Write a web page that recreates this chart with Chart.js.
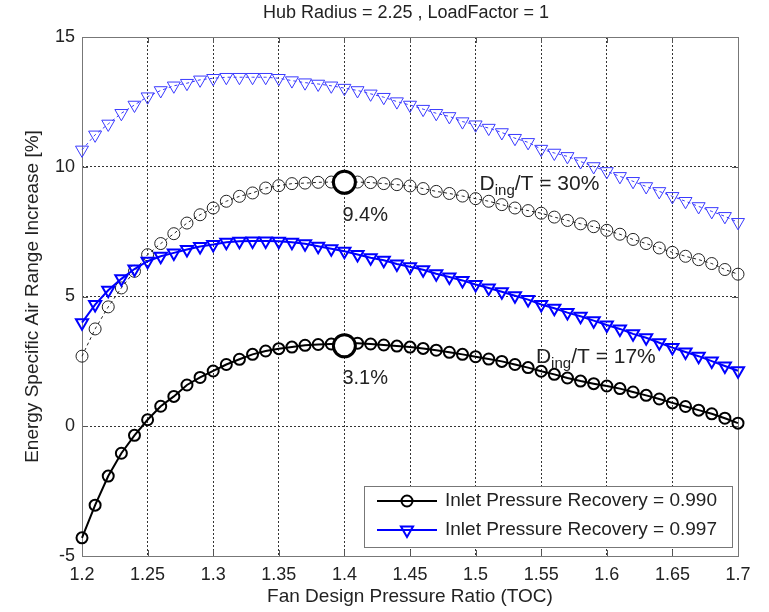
<!DOCTYPE html>
<html lang="en">
<head>
<meta charset="UTF-8" />
<title>Energy Specific Air Range Increase</title>
<script src="https://cdn.jsdelivr.net/npm/chart.js"></script>
<style>
  body { margin: 0; background: #fff; }
  #grafico { display: block; }
</style>
</head>
<body>
<canvas id="grafico" width="769" height="612"></canvas>
<script>
  // fan design pressure ratio (TOC), one point every 0.01
  var pressureRatio = [
    1.20, 1.21, 1.22, 1.23, 1.24, 1.25, 1.26, 1.27, 1.28, 1.29,
    1.30, 1.31, 1.32, 1.33, 1.34, 1.35, 1.36, 1.37, 1.38, 1.39,
    1.40, 1.41, 1.42, 1.43, 1.44, 1.45, 1.46, 1.47, 1.48, 1.49,
    1.50, 1.51, 1.52, 1.53, 1.54, 1.55, 1.56, 1.57, 1.58, 1.59,
    1.60, 1.61, 1.62, 1.63, 1.64, 1.65, 1.66, 1.67, 1.68, 1.69,
    1.70
  ];

  // Ding/T = 17%
  var recovery990Ding17 = [
    -4.30, -3.04, -1.92, -1.04, -0.35, 0.25, 0.77, 1.15, 1.59, 1.88,
    2.13, 2.38, 2.58, 2.77, 2.90, 2.99, 3.05, 3.12, 3.15, 3.17,
    3.20, 3.20, 3.17, 3.13, 3.09, 3.05, 3.00, 2.93, 2.85, 2.77,
    2.68, 2.59, 2.50, 2.38, 2.26, 2.12, 2.00, 1.86, 1.74, 1.64,
    1.55, 1.45, 1.32, 1.19, 1.05, 0.90, 0.76, 0.62, 0.48, 0.31,
    0.12
  ];
  var recovery997Ding17 = [
    3.99, 4.69, 5.24, 5.68, 6.06, 6.36, 6.55, 6.68, 6.81, 6.93,
    7.00, 7.09, 7.13, 7.14, 7.14, 7.13, 7.09, 7.03, 6.94, 6.84,
    6.74, 6.62, 6.49, 6.40, 6.25, 6.15, 6.03, 5.88, 5.75, 5.62,
    5.46, 5.33, 5.18, 5.03, 4.88, 4.69, 4.55, 4.38, 4.24, 4.07,
    3.90, 3.75, 3.56, 3.41, 3.22, 3.03, 2.86, 2.70, 2.51, 2.32,
    2.14
  ];

  // Ding/T = 30%
  var recovery990Ding30 = [
    2.70, 3.75, 4.60, 5.33, 5.97, 6.61, 7.04, 7.42, 7.83, 8.15,
    8.41, 8.67, 8.86, 8.99, 9.18, 9.27, 9.35, 9.37, 9.40, 9.41,
    9.44, 9.41, 9.39, 9.35, 9.31, 9.26, 9.16, 9.05, 8.97, 8.87,
    8.77, 8.67, 8.54, 8.41, 8.31, 8.21, 8.06, 7.93, 7.80, 7.69,
    7.55, 7.40, 7.20, 7.04, 6.87, 6.70, 6.55, 6.42, 6.27, 6.04,
    5.86
  ];
  var recovery997Ding30 = [
    10.65, 11.23, 11.65, 12.06, 12.38, 12.70, 12.94, 13.12, 13.22, 13.35,
    13.41, 13.45, 13.45, 13.45, 13.45, 13.41, 13.32, 13.24, 13.19, 13.12,
    13.03, 12.94, 12.81, 12.68, 12.51, 12.38, 12.22, 12.06, 11.94, 11.74,
    11.62, 11.49, 11.32, 11.10, 10.94, 10.68, 10.53, 10.40, 10.20, 10.01,
    9.82, 9.63, 9.44, 9.24, 9.05, 8.86, 8.67, 8.47, 8.28, 8.09,
    7.86
  ];

  // highlighted optimum of the 0.990 curves
  var peakX = [1.4, 1.4];
  var peakY = [9.4, 3.1];

  // Ding/T annotations
  var dingText = ["30%", "17%"];
  var dingX = [1.503, 1.546];
  var dingY = [9.38, 2.69];

  var xTicks = [1.2, 1.25, 1.3, 1.35, 1.4, 1.45, 1.5, 1.55, 1.6, 1.65, 1.7];
  var yTicks = [-5, 0, 5, 10, 15];

  var legendLabels = [
    "Inlet Pressure Recovery = 0.990",
    "Inlet Pressure Recovery = 0.997"
  ];
  var chartTitle = "Hub Radius = 2.25 , LoadFactor = 1";

  var fonte = "'Liberation Sans', Arial, sans-serif";
  var corTexto = "#222";

  function pontos(ys) {
    var lista = [];
    for (var i = 0; i < ys.length; i++) {
      lista.push({ x: pressureRatio[i], y: ys[i] });
    }
    return lista;
  }

  // triangle pointing down, same geometry as Chart.js 'triangle' rotated 180
  function trianguloBaixo(ctx, x, y, r) {
    ctx.beginPath();
    ctx.moveTo(x, y + r);
    ctx.lineTo(x - r * 0.866, y - r * 0.5);
    ctx.lineTo(x + r * 0.866, y - r * 0.5);
    ctx.closePath();
    ctx.stroke();
  }

  // axes box and inward tick marks
  var moldura = {
    id: "moldura",
    beforeDatasetsDraw(chart) {
      var ctx = chart.ctx;
      var a = chart.chartArea;
      var sx = chart.scales.x;
      var sy = chart.scales.y;
      ctx.save();
      ctx.strokeStyle = "#555";
      ctx.lineWidth = 1;
      ctx.beginPath();
      xTicks.forEach(function (v) {
        var px = Math.round(sx.getPixelForValue(v)) + 0.5;
        ctx.moveTo(px, a.bottom); ctx.lineTo(px, a.bottom - 6);
        ctx.moveTo(px, a.top); ctx.lineTo(px, a.top + 6);
      });
      yTicks.forEach(function (v) {
        var py = Math.round(sy.getPixelForValue(v)) + 0.5;
        ctx.moveTo(a.left, py); ctx.lineTo(a.left + 6, py);
        ctx.moveTo(a.right, py); ctx.lineTo(a.right - 6, py);
      });
      ctx.stroke();
      ctx.strokeStyle = "#777";
      ctx.strokeRect(Math.round(a.left) + 0.5, Math.round(a.top) + 0.5,
        Math.round(a.right - a.left), Math.round(a.bottom - a.top));
      ctx.restore();
    },
    afterDatasetsDraw(chart) {
      var ctx = chart.ctx;
      var sx = chart.scales.x;
      var sy = chart.scales.y;
      ctx.save();
      ctx.fillStyle = corTexto;

      // title
      ctx.font = "18px " + fonte;
      ctx.textAlign = "center";
      ctx.textBaseline = "middle";
      ctx.fillText(chartTitle, 406, 13);

      // peak values
      ctx.font = "20px " + fonte;
      ctx.textAlign = "left";
      for (var i = 0; i < peakY.length; i++) {
        var px = sx.getPixelForValue(peakX[i]);
        var py = sy.getPixelForValue(peakY[i]);
        ctx.fillText(peakY[i].toFixed(1) + "%", px - 2, py + 33);
      }

      // Ding/T labels with subscript
      ctx.textBaseline = "alphabetic";
      for (var j = 0; j < dingText.length; j++) {
        var x0 = sx.getPixelForValue(dingX[j]);
        var base = sy.getPixelForValue(dingY[j]) + 7;
        ctx.font = "21px " + fonte;
        ctx.fillText("D", x0, base);
        x0 += ctx.measureText("D").width;
        ctx.font = "15px " + fonte;
        ctx.fillText("ing", x0, base + 5);
        x0 += ctx.measureText("ing").width;
        ctx.font = "21px " + fonte;
        ctx.fillText("/T = " + dingText[j], x0, base);
      }

      // legend
      ctx.fillStyle = "#fff";
      ctx.fillRect(364, 486, 368, 61);
      ctx.strokeStyle = "#777";
      ctx.lineWidth = 1;
      ctx.strokeRect(364.5, 486.5, 368, 61);
      var linhas = [501, 530];
      var cores = ["#000", "#0000ff"];
      for (var k = 0; k < legendLabels.length; k++) {
        var ly = linhas[k];
        ctx.strokeStyle = cores[k];
        ctx.lineWidth = 2;
        ctx.beginPath();
        ctx.moveTo(377, ly); ctx.lineTo(437, ly);
        ctx.stroke();
        if (k === 0) {
          ctx.beginPath();
          ctx.arc(407, ly, 5.5, 0, Math.PI * 2);
          ctx.stroke();
        } else {
          trianguloBaixo(ctx, 407, ly, 7);
        }
        ctx.fillStyle = corTexto;
        ctx.font = "19px " + fonte;
        ctx.textAlign = "left";
        ctx.textBaseline = "middle";
        ctx.fillText(legendLabels[k], 445, ly);
      }
      ctx.restore();
    }
  };

  new Chart(document.getElementById("grafico"), {
    type: "line",
    data: {
      datasets: [
        {
          label: "peak",
          data: [{ x: peakX[0], y: peakY[0] }, { x: peakX[1], y: peakY[1] }],
          showLine: false,
          pointStyle: "circle",
          pointRadius: 11,
          pointBorderWidth: 3,
          pointBorderColor: "#000",
          pointBackgroundColor: "#fff",
          order: 0,
          clip: false
        },
        {
          label: legendLabels[0],
          data: pontos(recovery990Ding17),
          borderColor: "#000",
          borderWidth: 2,
          pointStyle: "circle",
          pointRadius: 5.5,
          pointBorderWidth: 2,
          pointBorderColor: "#000",
          pointBackgroundColor: "rgba(0,0,0,0)",
          order: 1,
          clip: false
        },
        {
          label: legendLabels[1],
          data: pontos(recovery997Ding17),
          borderColor: "#0000ff",
          borderWidth: 2,
          pointStyle: "triangle",
          pointRotation: 180,
          pointRadius: 7,
          pointBorderWidth: 2,
          pointBorderColor: "#0000ff",
          pointBackgroundColor: "rgba(0,0,0,0)",
          order: 2,
          clip: false
        },
        {
          label: "0.990, Ding/T = 30%",
          data: pontos(recovery990Ding30),
          borderColor: "#222",
          borderWidth: 1,
          borderDash: [3, 3],
          pointStyle: "circle",
          pointRadius: 6,
          pointBorderWidth: 1,
          pointBorderColor: "#222",
          pointBackgroundColor: "rgba(0,0,0,0)",
          order: 3,
          clip: false
        },
        {
          label: "0.997, Ding/T = 30%",
          data: pontos(recovery997Ding30),
          borderColor: "#3a3aff",
          borderWidth: 1,
          borderDash: [3, 3],
          pointStyle: "triangle",
          pointRotation: 180,
          pointRadius: 7.5,
          pointBorderWidth: 1,
          pointBorderColor: "#3a3aff",
          pointBackgroundColor: "rgba(0,0,0,0)",
          order: 4,
          clip: false
        }
      ]
    },
    options: {
      responsive: false,
      animation: false,
      layout: { padding: { top: 37, right: 31, left: 0, bottom: 0 } },
      plugins: {
        legend: { display: false },
        tooltip: { enabled: false },
        title: { display: false }
      },
      scales: {
        x: {
          type: "linear",
          min: 1.2,
          max: 1.7,
          afterBuildTicks: function (s) {
            s.ticks = xTicks.map(function (v) { return { value: v }; });
          },
          afterFit: function (s) { s.height = 56; },
          grid: { color: "#333", lineWidth: 1, drawTicks: false },
          border: { display: false, dash: [2, 2] },
          ticks: {
            padding: 8,
            color: corTexto,
            autoSkip: false,
            maxRotation: 0,
            font: { family: fonte, size: 18 },
            callback: function (v) { return String(+v.toFixed(2)); }
          },
          title: {
            display: true,
            text: "Fan Design Pressure Ratio (TOC)",
            color: corTexto,
            font: { family: fonte, size: 19 },
            padding: { top: 0, bottom: 4 }
          }
        },
        y: {
          type: "linear",
          min: -5,
          max: 15,
          afterBuildTicks: function (s) {
            s.ticks = yTicks.map(function (v) { return { value: v }; });
          },
          afterFit: function (s) { s.width = 82; },
          grid: { color: "#333", lineWidth: 1, drawTicks: false },
          border: { display: false, dash: [2, 2] },
          ticks: {
            padding: 7,
            color: corTexto,
            font: { family: fonte, size: 18 }
          },
          title: {
            display: true,
            text: "Energy Specific Air Range Increase [%]",
            color: corTexto,
            font: { family: fonte, size: 19 },
            padding: { top: 21, bottom: 0 }
          }
        }
      }
    },
    plugins: [moldura]
  });
</script>
</body>
</html>
